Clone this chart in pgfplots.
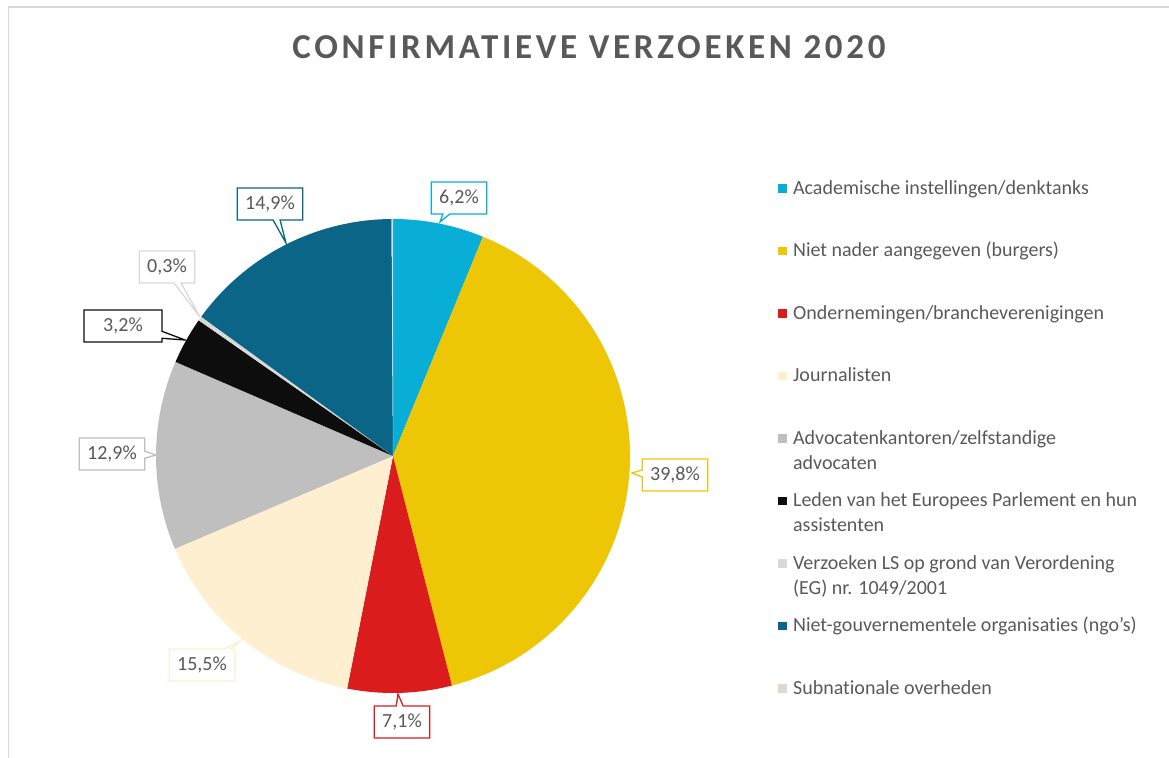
\documentclass[border=0pt]{standalone}
\usepackage{pgfplots}
\pgfplotsset{compat=1.18}
\usepackage{pgfplotstable}
\usetikzlibrary{shapes.callouts}
\usepackage{fontspec}
\setmainfont{Carlito}[Ligatures=NoCommon]
\newfontfamily\titlefont[LetterSpace=10.5,Ligatures=NoCommon]{Carlito}

\definecolor{cA}{HTML}{08AED6}
\definecolor{cB}{HTML}{EDC606}
\definecolor{cC}{HTML}{DA1C1C}
\definecolor{cD}{HTML}{FEEFD1}
\definecolor{cE}{HTML}{BFBFBF}
\definecolor{cF}{HTML}{0D0D0D}
\definecolor{cG}{HTML}{D9D9D9}
\definecolor{cH}{HTML}{0B6587}
\definecolor{cI}{HTML}{DFD8CE}
\definecolor{txt}{HTML}{595959}
\definecolor{frame}{HTML}{D9D9D9}

\tikzset{lbl/.style={rectangle callout, fill=white, draw=#1, line width=1.3bp, text=txt,
    font=\fontsize{20bp}{22bp}\selectfont, inner xsep=8bp, inner ysep=0pt,
    minimum height=32bp, callout pointer width=7bp}}

% share of confirmatory requests 2020 (percent), clockwise from 12 o'clock
\pgfplotstableread{
group value
Academische 6.2
NietNader 39.8
Ondernemingen 7.1
Journalisten 15.5
Advocaten 12.9
Leden 3.2
VerzoekenLS 0.3
NGO 14.9
Subnationale 0.1
}\piedata

\newcommand\getv[2]{\pgfplotstablegetelem{#1}{value}\of\piedata\global\let#2\pgfplotsretval}
\newcommand\lgd[1]{\raisebox{0pt}[13bp][4bp]{\parbox[t]{25cm}{\raggedright #1}}}

\getv{0}\valA \getv{1}\valB \getv{2}\valC \getv{3}\valD \getv{4}\valE
\getv{5}\valF \getv{6}\valG \getv{7}\valH \getv{8}\valI
\pgfmathsetmacro\angA{90}
\pgfmathsetmacro\angB{\angA-3.6*\valA}
\pgfmathsetmacro\angC{\angB-3.6*\valB}
\pgfmathsetmacro\angD{\angC-3.6*\valC}
\pgfmathsetmacro\angE{\angD-3.6*\valD}
\pgfmathsetmacro\angF{\angE-3.6*\valE}
\pgfmathsetmacro\angG{\angF-3.6*\valF}
\pgfmathsetmacro\angH{\angG-3.6*\valG}
\pgfmathsetmacro\angI{\angH-3.6*\valH}
\pgfmathsetmacro\angJ{\angI-3.6*\valI}

\begin{document}%
\begin{tikzpicture}
\begin{axis}[
  hide axis, scale only axis,
  width=1169bp, height=758bp,
  xmin=0, xmax=1169, ymin=0, ymax=758,
  clip=false,
  legend style={at={(axis cs:778,577)}, anchor=north west, draw=none, fill=none,
    inner sep=0pt, font=\fontsize{20bp}{25bp}\selectfont, text=txt,
    row sep=48bp, nodes={inner sep=0pt},
    /tikz/every odd column/.append style={column sep=6.5bp}},
  legend cell align=left,
  legend image code/.code={\fill[#1] (0bp,-4.2bp) rectangle (8.4bp,4.2bp);},
]
% chart frame
\draw[color=frame, line width=1.5bp] (axis cs:8.5,0) -- (axis cs:8.5,751) -- (axis cs:1169,751);
% title
\node[font=\titlefont\bfseries\fontsize{35bp}{38bp}\selectfont, text=txt] at (axis cs:589,711) {CONFIRMATIEVE VERZOEKEN 2020};

% pie slices (centre 393,302 ; radius 237)
\addplot[fill=cA, draw=none] coordinates {(393,302)} -- ++(\angA:237bp) arc[start angle=\angA, end angle=\angB, radius=237bp] -- cycle;
\addlegendentry{\lgd{Academische instellingen/denktanks}}
\addplot[fill=cB, draw=none] coordinates {(393,302)} -- ++(\angB:237bp) arc[start angle=\angB, end angle=\angC, radius=237bp] -- cycle;
\addlegendentry{\lgd{Niet nader aangegeven (burgers)}}
\addplot[fill=cC, draw=none] coordinates {(393,302)} -- ++(\angC:237bp) arc[start angle=\angC, end angle=\angD, radius=237bp] -- cycle;
\addlegendentry{\lgd{Ondernemingen/brancheverenigingen}}
\addplot[fill=cD, draw=none] coordinates {(393,302)} -- ++(\angD:237bp) arc[start angle=\angD, end angle=\angE, radius=237bp] -- cycle;
\addlegendentry{\lgd{Journalisten}}
\addplot[fill=cE, draw=none] coordinates {(393,302)} -- ++(\angE:237bp) arc[start angle=\angE, end angle=\angF, radius=237bp] -- cycle;
\addlegendentry{\lgd{Advocatenkantoren/zelfstandige\\advocaten}}
\addplot[fill=cF, draw=none] coordinates {(393,302)} -- ++(\angF:237bp) arc[start angle=\angF, end angle=\angG, radius=237bp] -- cycle;
\addlegendentry{\lgd{Leden van het Europees Parlement en hun\\assistenten}}
\addplot[fill=cG, draw=none] coordinates {(393,302)} -- ++(\angG:237bp) arc[start angle=\angG, end angle=\angH, radius=237bp] -- cycle;
\addlegendentry{\lgd{Verzoeken LS op grond van Verordening\\(EG) nr. 1049/2001}}
\addplot[fill=cH, draw=none] coordinates {(393,302)} -- ++(\angH:237bp) arc[start angle=\angH, end angle=\angI, radius=237bp] -- cycle;
\addlegendentry{\lgd{Niet-gouvernementele organisaties (ngo’s)}}
\addplot[fill=cI, draw=none] coordinates {(393,302)} -- ++(\angI:237bp) arc[start angle=\angI, end angle=\angJ, radius=237bp] -- cycle;
\addlegendentry{\lgd{Subnationale overheden}}

% data callouts
\node[lbl=cA, callout absolute pointer={(axis cs:440,536)}] at (axis cs:459,560) {6,2\%};
\node[lbl=cB, callout absolute pointer={(axis cs:632,285)}] at (axis cs:675,283) {39,8\%};
\node[lbl=cC, callout absolute pointer={(axis cs:398,64)}] at (axis cs:402,36) {7,1\%};
\node[lbl=cD, callout absolute pointer={(axis cs:240,117)}] at (axis cs:202,93) {15,5\%};
\node[lbl=cE, callout absolute pointer={(axis cs:156,303)}] at (axis cs:112,304) {12,9\%};
\node[lbl=cF, minimum width=78bp, callout absolute pointer={(axis cs:185,418)}] at (axis cs:123,432) {3,2\%};
\node[lbl=cG, callout absolute pointer={(axis cs:200,441)}] at (axis cs:167,491) {0,3\%};
\node[lbl=cH, callout absolute pointer={(axis cs:286,515)}] at (axis cs:270,554) {14,9\%};
\end{axis}
\pgfresetboundingbox
\useasboundingbox (0,0) rectangle (1169bp,758bp);
\end{tikzpicture}%
\end{document}
